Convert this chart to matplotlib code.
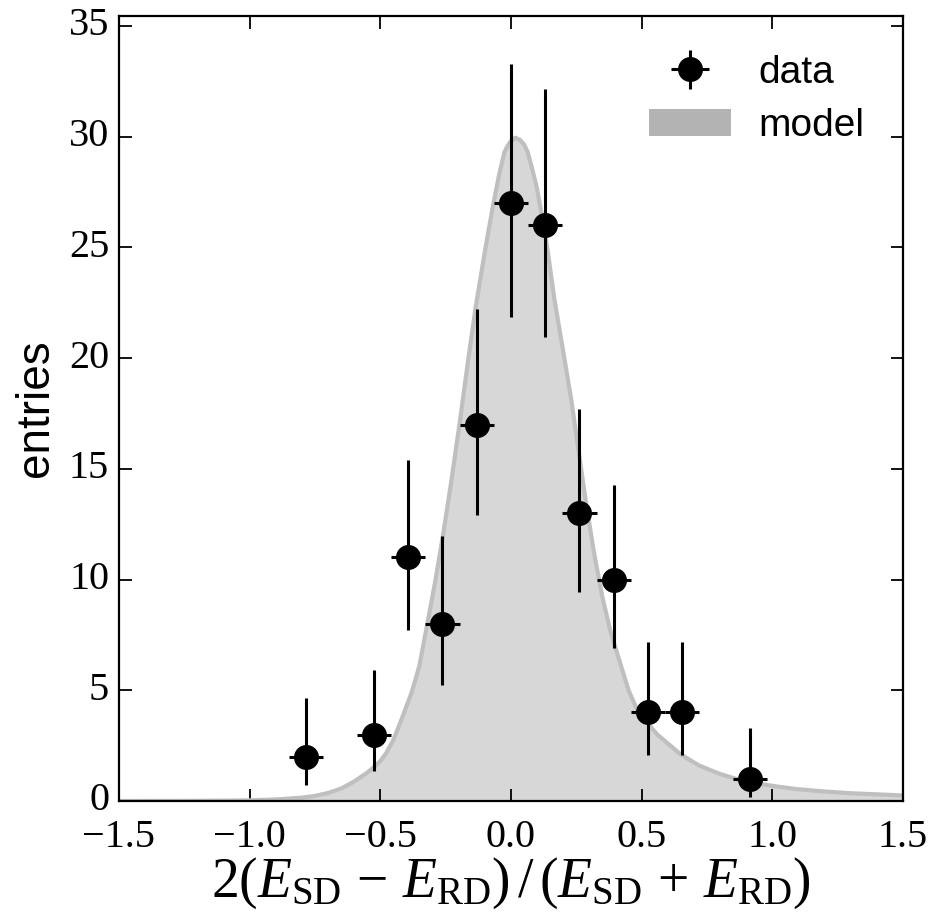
import numpy as np
import matplotlib
matplotlib.use("Agg")
import matplotlib.pyplot as plt
from matplotlib.patches import Patch

# binned data (bin width ~ pi/24), counts with 68% Poisson intervals
bin_width = 0.1309
bin_centers = [-0.785, -0.524, -0.393, -0.262, -0.131, 0.0,
               0.131, 0.262, 0.393, 0.524, 0.654, 0.916]
counts = [2, 3, 11, 8, 17, 27, 26, 13, 10, 4, 4, 1]
err_low = [0.71, 1.37, 7.74, 5.23, 12.92, 21.84, 20.94, 9.45, 6.90, 2.09, 2.09, 0.17]
err_high = [4.64, 5.92, 15.42, 11.95, 22.20, 33.26, 32.16, 17.69, 14.27, 7.16, 7.16, 3.30]

# model curve
model_x = [-1.5, -1.3, -1.1, -1.0, -0.9, -0.8, -0.75, -0.7, -0.65, -0.6,
           -0.55, -0.527, -0.5, -0.478, -0.45, -0.415, -0.38, -0.351, -0.32,
           -0.29, -0.26, -0.23, -0.197, -0.165, -0.135, -0.10, -0.07, -0.045,
           -0.025, -0.012, 0.0, 0.017, 0.035, 0.05, 0.064, 0.08, 0.099, 0.125,
           0.141, 0.167, 0.2, 0.231, 0.26, 0.288, 0.318, 0.35, 0.38, 0.416,
           0.45, 0.48, 0.52, 0.56, 0.6, 0.65, 0.72, 0.8, 0.875, 0.95, 1.02,
           1.1, 1.2, 1.3, 1.4, 1.5]
model_y = [0.0, 0.004, 0.015, 0.03, 0.07, 0.15, 0.23, 0.36, 0.56, 0.88,
           1.28, 1.5, 1.8, 2.15, 2.75, 3.8, 4.9, 6.07, 8.0,
           9.9, 12.0, 14.3, 17.0, 19.8, 22.3, 24.8, 26.8, 28.3,
           29.3, 29.6, 29.8, 29.95, 29.85, 29.65, 29.3, 28.6, 27.7, 26.0,
           24.8, 22.6, 20.3, 18.1, 15.7, 13.4, 11.2, 9.2, 7.7, 6.3,
           5.0, 4.2, 3.55, 3.0, 2.6, 2.1, 1.6, 1.22, 0.95, 0.78, 0.65,
           0.53, 0.43, 0.35, 0.30, 0.25]

plt.rcParams['mathtext.fontset'] = 'custom'
plt.rcParams['mathtext.rm'] = 'Liberation Serif'
plt.rcParams['mathtext.it'] = 'Liberation Serif:italic'

fig = plt.figure(figsize=(9.29, 9.15), dpi=100)
ax = fig.add_axes([0.128, 0.1246, 0.844, 0.858])

ax.fill_between(model_x, model_y, 0, color='#d7d7d7', lw=0, zorder=1)
ax.plot(model_x, model_y, color='#bfbfbf', lw=3, zorder=2,
        solid_joinstyle='round')

c = np.array(counts, dtype=float)
yerr = [c - np.array(err_low), np.array(err_high) - c]
eb = ax.errorbar(bin_centers, counts, yerr=yerr, xerr=bin_width / 2,
                 fmt='o', color='k', ms=17, elinewidth=2.2, capsize=0,
                 zorder=3)

ax.set_xlim(-1.5, 1.5)
ax.set_ylim(0, 35.45)
ax.set_xticks([-1.5, -1.0, -0.5, 0.0, 0.5, 1.0, 1.5])
ax.set_yticks(range(0, 36, 5))
ax.tick_params(direction='in', top=True, right=True, length=9, width=1.3,
               labelsize=29)
ax.tick_params(axis='x', pad=13)
ax.tick_params(axis='y', pad=7)
for lab in ax.get_xticklabels() + ax.get_yticklabels():
    lab.set_family('Liberation Serif')
for lab in ax.get_yticklabels():
    lab.set_verticalalignment('center')
for sp in ax.spines.values():
    sp.set_linewidth(1.6)

ax.set_xlabel(r'$2(E_{\rm SD}\,-\,E_{\rm RD})\,/\,(E_{\rm SD}\,+\,E_{\rm RD})$',
              fontsize=40, labelpad=0)
ax.set_ylabel('entries', fontsize=33, family='Liberation Sans', labelpad=8)

handles = [eb, Patch(facecolor='#b3b3b3', edgecolor='none')]
ax.legend(handles, ['data', 'model'], loc='upper right', frameon=False,
          prop={'family': 'Liberation Sans', 'size': 28},
          handlelength=2.1, handletextpad=0.7, labelspacing=0.45,
          borderaxespad=0.6)

fig.savefig('out.png', dpi=100)
